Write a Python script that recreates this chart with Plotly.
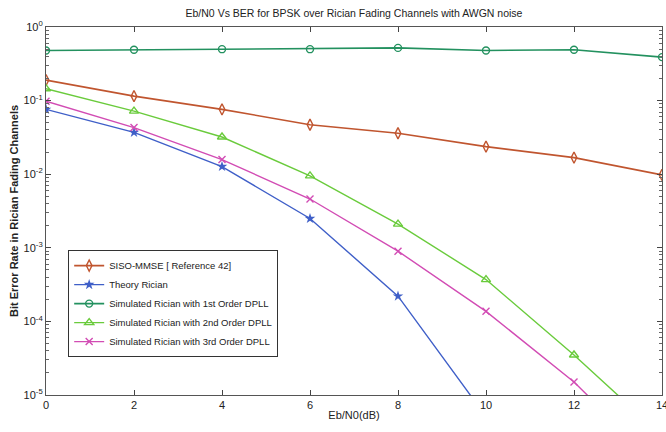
import plotly.graph_objects as go

ebn0 = [0, 2, 4, 6, 8, 10, 12, 14]
siso_mmse = [0.19, 0.115, 0.076, 0.047, 0.036, 0.0237, 0.0168, 0.0098]
theory = [0.076, 0.037, 0.0127, 0.0025, 2.2e-4, 5.1e-6]
theory_x = [0, 2, 4, 6, 8, 10]
dpll1 = [0.48, 0.49, 0.50, 0.50, 0.52, 0.48, 0.49, 0.39]
dpll2 = [0.145, 0.072, 0.032, 0.0095, 0.0021, 3.7e-4, 3.5e-5, 2.8e-6]
dpll3 = [0.098, 0.043, 0.0158, 0.0046, 9.0e-4, 1.37e-4, 1.5e-5, 1.0e-6]

names = ["SISO-MMSE [ Reference 42]", "Theory Rician",
         "Simulated Rician with 1st Order DPLL",
         "Simulated Rician with 2nd Order DPLL",
         "Simulated Rician with 3rd Order DPLL"]

ytick_vals = [1, 1e-1, 1e-2, 1e-3, 1e-4, 1e-5]
ytick_text = ["10<sup>0</sup>", "10<sup>-1</sup>", "10<sup>-2</sup>",
              "10<sup>-3</sup>", "10<sup>-4</sup>", "10<sup>-5</sup>"]
xtick_vals = [0, 2, 4, 6, 8, 10, 12, 14]

FONT = "Liberation Sans Narrow, Liberation Sans, Arial, sans-serif"

fig = go.Figure()
fig.add_trace(go.Scatter(x=ebn0, y=siso_mmse, name=names[0], mode="lines+markers",
                         line=dict(color="#c0552f", width=1.6),
                         marker=dict(symbol="diamond-tall-open", size=8, color="#c0552f",
                                     line=dict(width=1.4))))
fig.add_trace(go.Scatter(x=theory_x, y=theory, name=names[1], mode="lines+markers",
                         line=dict(color="#3f5fc8", width=1.4),
                         marker=dict(symbol="star", size=8, color="#3f5fc8")))
fig.add_trace(go.Scatter(x=ebn0, y=dpll1, name=names[2], mode="lines+markers",
                         line=dict(color="#23915f", width=1.6),
                         marker=dict(symbol="circle-open", size=7, color="#23915f",
                                     line=dict(width=1.4))))
fig.add_trace(go.Scatter(x=ebn0, y=dpll2, name=names[3], mode="lines+markers",
                         line=dict(color="#6acb3c", width=1.4),
                         marker=dict(symbol="triangle-up-open", size=8, color="#6acb3c",
                                     line=dict(width=1.4))))
fig.add_trace(go.Scatter(x=ebn0, y=dpll3, name=names[4], mode="lines+markers",
                         line=dict(color="#d24cb4", width=1.4),
                         marker=dict(symbol="x-thin-open", size=7, color="#d24cb4",
                                     line=dict(width=1.4))))

fig.update_layout(
    width=666, height=432,
    margin=dict(l=46, r=4, t=27, b=37),
    paper_bgcolor="white", plot_bgcolor="white",
    font=dict(family=FONT, size=11, color="#222222"),
    title=dict(text="Eb/N0 Vs BER for BPSK over Rician Fading Channels with AWGN noise",
               x=(46 + 662) / 2 / 666, xanchor="center", y=1 - 13 / 432, yanchor="middle",
               font=dict(size=10.5, family=FONT, color="#222222")),
    legend=dict(x=0.036, y=0.103, xanchor="left", yanchor="bottom",
                bgcolor="white", bordercolor="#333333", borderwidth=1,
                font=dict(size=9.5, family=FONT, color="#222222"),
                itemwidth=30, tracegroupgap=0),
    showlegend=True,
)
fig.update_xaxes(range=[0, 14], tickvals=xtick_vals, ticks="inside", ticklen=5,
                 tickcolor="#444444", showline=True, linecolor="#555555", linewidth=1.2,
                 mirror="ticks", showgrid=False, zeroline=False,
                 ticklabeloverflow="allow", automargin=False,
                 tickfont=dict(size=11, family=FONT),
                 title=dict(text="Eb/N0(dB)", font=dict(size=11, family=FONT), standoff=1))
fig.update_yaxes(type="log", range=[-5, 0], tickvals=ytick_vals, ticktext=ytick_text,
                 ticks="inside", ticklen=5, tickcolor="#444444",
                 showline=True, linecolor="#555555", linewidth=1.2, mirror="ticks",
                 showgrid=False, zeroline=False, automargin=False,
                 minor=dict(ticks="inside", ticklen=3, tickcolor="#666666",
                            tickvals=[m * 10 ** e for e in range(-5, 0) for m in range(2, 10)]),
                 tickfont=dict(size=11, family=FONT),
                 title=dict(text="<b>Bit Error Rate in Rician Fading Channels</b>",
                            font=dict(size=11, family=FONT), standoff=2))

fig.write_html("out.html")
